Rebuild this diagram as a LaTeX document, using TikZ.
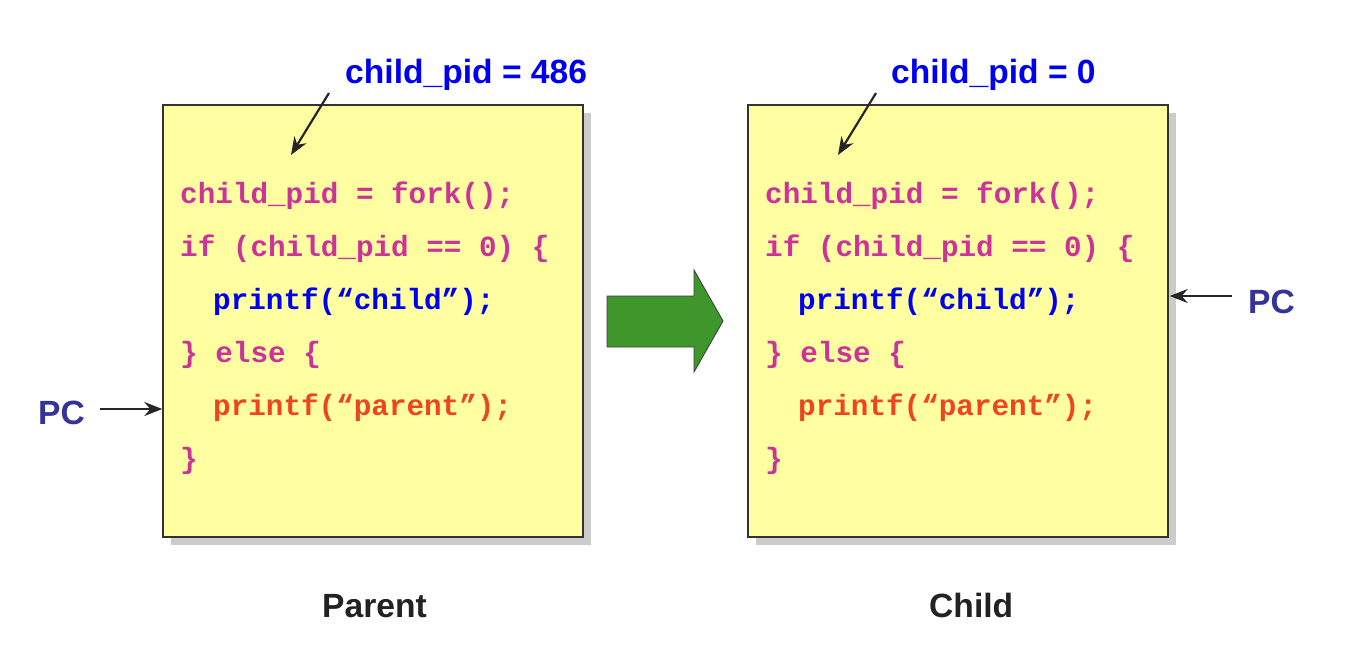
\documentclass[tikz,border=0pt]{standalone}
\usepackage{fontspec}
\setmainfont{Liberation Sans}
\newfontfamily\codefont{Liberation Mono}
\usetikzlibrary{arrows.meta,shadows}
\definecolor{codemag}{HTML}{CC3399}
\definecolor{codeblue}{HTML}{0000F0}
\definecolor{codeorange}{HTML}{EE4422}
\definecolor{pcblue}{HTML}{333399}
\definecolor{boxyellow}{HTML}{FFFFA2}
\definecolor{arrgreen}{HTML}{3F962A}
\definecolor{labgray}{HTML}{222222}
\tikzset{
  procbox/.style={draw=black!80, line width=1.4pt, fill=boxyellow,
    minimum width=420pt, minimum height=432pt, inner sep=0pt,
    drop shadow={shadow xshift=8pt, shadow yshift=-8pt, fill=black!20, opacity=1}},
  code/.style={anchor=base west, inner sep=0pt, font=\codefont\bfseries\fontsize{29.3}{29.3}\selectfont},
  big/.style={anchor=base west, inner sep=0pt, font=\bfseries\fontsize{33.6}{33.6}\selectfont},
  ptr/.style={draw=black!85, line width=2.2pt, -{Stealth[length=18pt,width=14pt,inset=6pt]}},
}
\begin{document}
\begin{tikzpicture}[x=1pt,y=-1pt]
\useasboundingbox (0,0) rectangle (1354,662);
% boxes
\node[procbox] (parent) at (373,321) {};
\node[procbox] (child) at (958,321) {};
% parent code
\node[code, text=codemag] (p1) at (180,203) {child\_pid = fork();};
\node[code, text=codemag] (p2) at (180,256) {if (child\_pid == 0) \{};
\node[code, text=codeblue] (p3) at (213,309) {printf(“child”);};
\node[code, text=codemag] (p4) at (180,362) {\} else \{};
\node[code, text=codeorange] (p5) at (213,415) {printf(“parent”);};
\node[code, text=codemag] (p6) at (180,468) {\}};
% child code
\node[code, text=codemag] (c1) at (765,203) {child\_pid = fork();};
\node[code, text=codemag] (c2) at (765,256) {if (child\_pid == 0) \{};
\node[code, text=codeblue] (c3) at (798,309) {printf(“child”);};
\node[code, text=codemag] (c4) at (765,362) {\} else \{};
\node[code, text=codeorange] (c5) at (798,415) {printf(“parent”);};
\node[code, text=codemag] (c6) at (765,468) {\}};
% labels
\node[big, text=codeblue] (lp) at (345,83) {child\_pid = 486};
\node[big, text=codeblue] (lc) at (891,83) {child\_pid = 0};
\node[big, text=pcblue] (pcl) at (38,424) {PC};
\node[big, text=pcblue] (pcr) at (1248,313) {PC};
\node[big, text=labgray] (tp) at (322,617) {Parent};
\node[big, text=labgray] (tc) at (929,617) {Child};
% pointer coordinates
\coordinate (lps) at (329,93);
\coordinate (lpe) at (291,155);
\coordinate (lcs) at (876,93);
\coordinate (lce) at (838,155);
\coordinate (pcls) at (100,409);
\coordinate (pcrs) at (1232,296);
\draw[ptr] (lps) -- (lpe);
\draw[ptr] (lcs) -- (lce);
\draw[ptr] (pcls) -- (pcls -| parent.west);
\draw[ptr] (pcrs) -- ([xshift=1pt]pcrs -| child.east);
% green arrow
\draw[fill=arrgreen, draw=black!75, line width=0.9pt, line join=miter]
  (607,296) -- (694,296) -- (694,270) -- (723,321) -- (694,372) -- (694,347) -- (607,347) -- cycle;
\end{tikzpicture}
\end{document}
